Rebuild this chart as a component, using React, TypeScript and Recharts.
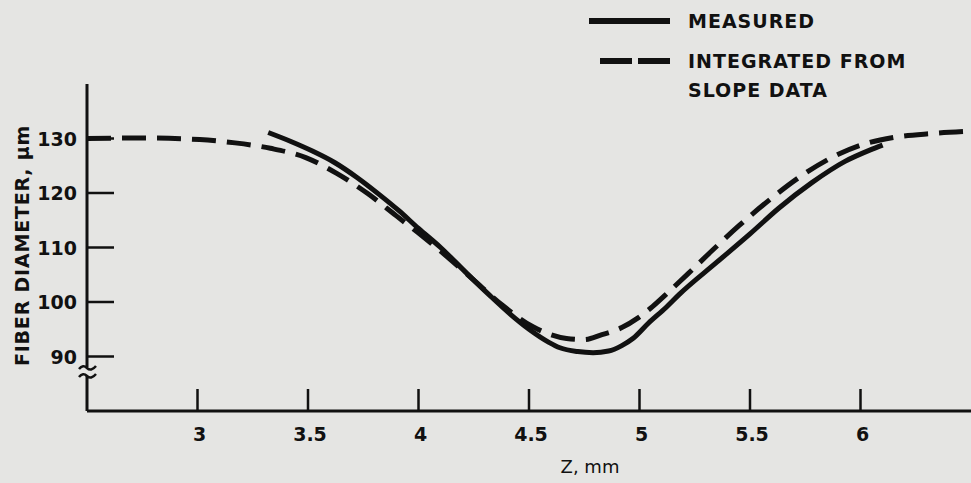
import { LineChart, Line, XAxis, YAxis, Legend } from "recharts";

// Z (mm) and fiber diameter (µm)
const measuredZ = [
  3.32, 3.42, 3.52, 3.62, 3.72, 3.82, 3.91, 4.0, 4.1, 4.22, 4.32, 4.42, 4.5,
  4.59, 4.64, 4.72, 4.79, 4.86, 4.92, 4.97, 5.04, 5.12, 5.18, 5.35, 5.5, 5.63,
  5.78, 5.93, 6.05, 6.1,
];
const measuredD = [
  131.1, 129.5, 127.7, 125.6, 122.9, 119.8, 116.8, 113.5, 110.0, 105.2, 101.3,
  97.6, 95.0, 92.6, 91.6, 90.9, 90.7, 91.0, 92.0, 93.3, 96.1, 99.0, 101.4,
  107.3, 112.5, 117.2, 121.9, 125.8, 128.0, 128.8,
];

const integratedZ = [
  2.5, 2.74, 3.01, 3.17, 3.33, 3.49, 3.63, 3.77, 3.9, 4.02, 4.13, 4.25, 4.38,
  4.52, 4.67, 4.75, 4.83, 4.92, 4.99, 5.06, 5.12, 5.22, 5.33, 5.45, 5.59, 5.72,
  5.86, 6.01, 6.15, 6.32, 6.48,
];
const integratedD = [
  130.0, 130.1, 129.8, 129.2, 128.2, 126.5, 123.6, 119.9, 115.8, 112.0, 108.3,
  104.0, 99.4, 95.4, 93.3, 93.1, 94.0, 95.3, 97.0, 99.2, 101.4, 105.2, 109.5,
  114.0, 118.8, 122.8, 126.3, 128.9, 130.2, 130.9, 131.3,
];

const xTicks = [3, 3.5, 4, 4.5, 5, 5.5, 6];
const yTicks = [90, 100, 110, 120, 130];

const legendLines = [["MEASURED"], ["INTEGRATED FROM", "SLOPE DATA"]];

const measured = measuredZ.map((z, i) => ({ z, d: measuredD[i] }));
const integrated = integratedZ.map((z, i) => ({ z, d: integratedD[i] }));

const INK = "#111";
const BG = "#e5e5e3";
const FONT = "'DejaVu Sans', sans-serif";

const XTick = (props: any) => {
  const { x, y, payload } = props;
  return (
    <g>
      <line x1={x} x2={x} y1={y} y2={y - 22} stroke={INK} strokeWidth={2.5} />
      <text
        x={x + 2}
        y={y + 30}
        textAnchor="middle"
        fontFamily={FONT}
        fontWeight="bold"
        fontSize={19}
        fill={INK}
      >
        {payload.value}
      </text>
    </g>
  );
};

const YTick = (props: any) => {
  const { x, y, payload } = props;
  return (
    <g>
      <line x1={x} x2={x + 27} y1={y} y2={y} stroke={INK} strokeWidth={2.5} />
      <text
        x={x - 10}
        y={y + 7}
        textAnchor="end"
        fontFamily={FONT}
        fontWeight="bold"
        fontSize={19}
        fill={INK}
      >
        {payload.value}
      </text>
    </g>
  );
};

const YTitle = (props: any) => {
  const vb = props.viewBox || { x: 27, y: 84, width: 60, height: 327 };
  const cx = vb.x - 5;
  const cy = vb.y + vb.height / 2 - 2;
  return (
    <text
      x={cx}
      y={cy}
      transform={`rotate(-90, ${cx}, ${cy})`}
      textAnchor="middle"
      dominantBaseline="central"
      fontFamily={FONT}
      fontWeight="bold"
      fontSize={19}
      letterSpacing={0.8}
      fill={INK}
    >
      FIBER DIAMETER, μm
    </text>
  );
};

const XTitle = (props: any) => {
  const vb = props.viewBox || { x: 87, y: 411, width: 884, height: 72 };
  return (
    <text
      x={vb.x + 503}
      y={vb.y + 62}
      textAnchor="middle"
      fontFamily={FONT}
      fontSize={18}
      fill={INK}
    >
      Z, mm
    </text>
  );
};

const renderLegend = (props: any) => {
  const payload = props.payload || [];
  return (
    <svg width={971} height={110}>
      {payload.map((entry: any, i: number) => {
        const lines = legendLines[i] || [entry.value];
        const top = i === 0 ? 21 : 61;
        return (
          <g key={`leg-${i}`}>
            {i === 0 ? (
              <line x1={589} x2={670} y1={top} y2={top} stroke={INK} strokeWidth={6} />
            ) : (
              <line
                x1={600}
                x2={670}
                y1={top}
                y2={top}
                stroke={INK}
                strokeWidth={6}
                strokeDasharray="32 6"
              />
            )}
            {lines.map((t, j) => (
              <text
                key={j}
                x={688}
                y={top + 7 + j * 29}
                fontFamily={FONT}
                fontWeight="bold"
                fontSize={19}
                letterSpacing={1}
                fill={INK}
              >
                {t}
              </text>
            ))}
          </g>
        );
      })}
    </svg>
  );
};

export default function App() {
  return (
    <div
      style={{
        position: "absolute",
        left: 0,
        top: 0,
        width: 971,
        height: 483,
        background: BG,
      }}
    >
      <LineChart
        width={971}
        height={483}
        margin={{ top: 84, right: 0, bottom: 0, left: 27 }}
      >
        <XAxis
          dataKey="z"
          type="number"
          domain={[2.5, 6.5]}
          ticks={xTicks}
          allowDataOverflow
          height={72}
          tickSize={0}
          tickMargin={0}
          tickLine={false}
          tick={XTick}
          axisLine={{ stroke: INK, strokeWidth: 3 }}
          label={XTitle}
        />
        <YAxis
          dataKey="d"
          type="number"
          domain={[80, 140]}
          ticks={yTicks}
          allowDataOverflow
          width={60}
          tickSize={0}
          tickMargin={0}
          tickLine={false}
          tick={YTick}
          axisLine={{ stroke: INK, strokeWidth: 3 }}
          label={YTitle}
        />
        <Legend
          layout="vertical"
          align="center"
          verticalAlign="middle"
          wrapperStyle={{ left: 0, top: 0, width: 971, height: 110 }}
          content={renderLegend}
        />
        <Line
          data={measured}
          dataKey="d"
          name={legendLines[0].join(" ")}
          type="monotone"
          stroke={INK}
          strokeWidth={5}
          dot={false}
          isAnimationActive={false}
        />
        <Line
          data={integrated}
          dataKey="d"
          name={legendLines[1].join(" ")}
          type="monotone"
          stroke={INK}
          strokeWidth={5}
          strokeDasharray="24 11"
          dot={false}
          isAnimationActive={false}
        />
      </LineChart>
      {/* axis break mark on the y axis */}
      <svg
        width={971}
        height={483}
        style={{ position: "absolute", left: 0, top: 0, pointerEvents: "none" }}
      >
        <rect x={84} y={367} width={6} height={9} fill={BG} />
        <path d="M79 369 Q83 364 87 368 T96 366" stroke={INK} strokeWidth={2.5} fill="none" />
        <path d="M79 377 Q83 372 87 376 T96 374" stroke={INK} strokeWidth={2.5} fill="none" />
      </svg>
    </div>
  );
}
